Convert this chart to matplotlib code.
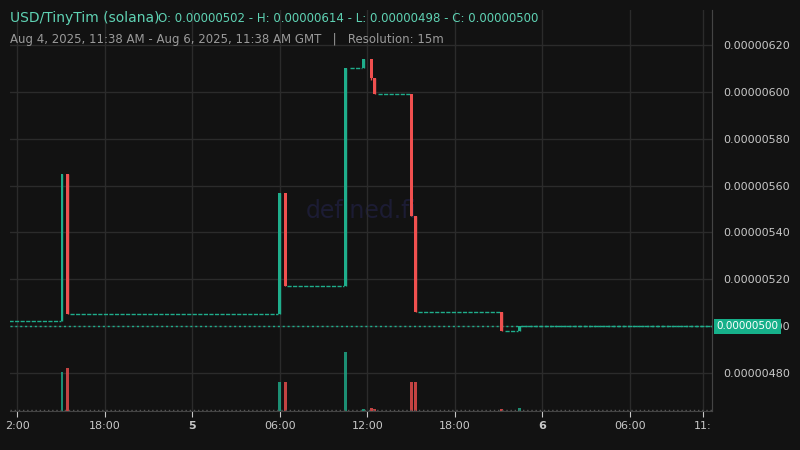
import matplotlib
matplotlib.use("Agg")
import matplotlib.pyplot as plt

# time in hours since Aug 4, 12:00 GMT; prices in USD
bar_t = [3.05, 3.45, 18.0, 18.35, 22.5, 23.75, 24.25, 24.5, 27.0, 27.3, 33.2, 34.45]
bar_o = [5.02e-6, 5.65e-6, 5.05e-6, 5.57e-6, 5.17e-6, 6.10e-6, 6.14e-6, 6.06e-6, 5.99e-6, 5.47e-6, 5.06e-6, 4.98e-6]
bar_h = [5.65e-6, 5.65e-6, 5.57e-6, 5.57e-6, 6.10e-6, 6.14e-6, 6.14e-6, 6.06e-6, 5.99e-6, 5.47e-6, 5.06e-6, 5.00e-6]
bar_l = [5.02e-6, 5.05e-6, 5.05e-6, 5.17e-6, 5.17e-6, 6.10e-6, 6.05e-6, 5.99e-6, 5.47e-6, 5.06e-6, 4.98e-6, 4.98e-6]
bar_c = [5.65e-6, 5.05e-6, 5.57e-6, 5.17e-6, 6.10e-6, 6.14e-6, 6.06e-6, 5.99e-6, 5.47e-6, 5.06e-6, 4.98e-6, 5.00e-6]
bar_v = [39, 43, 29, 29, 59, 2, 3, 2, 29, 29, 2, 3]
# flat stretches of doji candles: (start hour, end hour, price)
flat_start = [-0.6, 3.6, 18.5, 22.8, 24.7, 27.45, 33.4]
flat_end = [3.0, 17.9, 22.4, 23.6, 26.9, 33.1, 34.3]
flat_price = [5.02e-6, 5.05e-6, 5.17e-6, 6.10e-6, 5.99e-6, 5.06e-6, 4.98e-6]
last_start, last_end, last_price = 34.6, 47.7, 5.00e-6

tick_pos = [0, 6, 12, 18, 24, 30, 36, 42, 47]
tick_lab = ["2:00", "18:00", "5", "06:00", "12:00", "18:00", "6", "06:00", "11:"]
y_ticks = [4.8e-6, 5.0e-6, 5.2e-6, 5.4e-6, 5.6e-6, 5.8e-6, 6.0e-6, 6.2e-6]

BG = "#121212"; GRID = "#2b2b2b"; TXT = "#c8c8c8"
UP = "#1fae8c"; DN = "#f0504f"

fig = plt.figure(figsize=(8, 4.5), dpi=100, facecolor=BG)
ax = fig.add_axes([10/800, 39/450, 702/800, 401/450], facecolor=BG)
ax.set_xlim(-0.514, 47.63)
ax.set_ylim(4.638e-6, 6.349e-6)

ax.text(0.5, 0.5, "defined.fi", transform=ax.transAxes, fontsize=17,
        color="#1c1c34", ha="center", va="center", zorder=0)

for i in range(len(bar_t)):
    col = UP if bar_c[i] >= bar_o[i] else DN
    ax.vlines(bar_t[i], bar_l[i], bar_h[i], color=col, lw=1, zorder=3)
    lo, hi = min(bar_o[i], bar_c[i]), max(bar_o[i], bar_c[i])
    ax.bar(bar_t[i], hi - lo, bottom=lo, width=0.2, color=col, zorder=3)

for s, e, p in zip(flat_start, flat_end, flat_price):
    ax.hlines(p, s, e, color=UP, lw=1, linestyles=(0, (3, 1)), zorder=2)
ax.hlines(last_price, last_start, last_end, color=UP, lw=1, linestyles=(0, (3, 1)), zorder=2)
ax.axhline(last_price, color=UP, lw=1, linestyle=(0, (1.5, 2)), zorder=2)

vax = ax.twinx()
vax.set_ylim(0, 401)
vax.bar(bar_t, bar_v, width=0.2,
        color=[(UP if bar_c[i] >= bar_o[i] else DN) for i in range(len(bar_t))], alpha=0.8)
vax.axhline(0.6, color="#555555", lw=1, linestyle=(0, (1, 2)))
vax.set_yticks([])

ax.set_xticks(tick_pos)
ax.set_xticklabels(tick_lab)
for lab in ax.get_xticklabels():
    if lab.get_text() in ("5", "6"):
        lab.set_fontweight("bold")
ax.set_yticks(y_ticks)
ax.set_yticklabels([f"{v:.8f}" for v in y_ticks])
ax.yaxis.tick_right()
ax.tick_params(axis="both", colors=TXT, labelsize=8, length=4)
ax.tick_params(axis="y", length=0, pad=8)
ax.grid(True, color=GRID, lw=1)
for side in ["top", "left"]:
    ax.spines[side].set_visible(False)
    vax.spines[side].set_visible(False)
ax.spines["right"].set_color("#444444"); vax.spines["right"].set_color("#444444")
ax.spines["bottom"].set_color("#444444"); vax.spines["bottom"].set_visible(False)

ax.annotate(f"{last_price:.8f}", xy=(1, last_price), xycoords=("axes fraction", "data"),
            xytext=(3, 0), textcoords="offset points", va="center", ha="left",
            fontsize=7.5, color="white", zorder=5,
            bbox=dict(boxstyle="square,pad=0.25", fc="#16b08a", ec="none"))

fig.text(10/800, 1 - 18/450, "USD/TinyTim (solana)", color="#5fd3b4", fontsize=10, va="center")
fig.text(158/800, 1 - 18/450, "O: 0.00000502 - H: 0.00000614 - L: 0.00000498 - C: 0.00000500",
         color="#5fd3b4", fontsize=8.5, va="center")
fig.text(10/800, 1 - 40/450, "Aug 4, 2025, 11:38 AM - Aug 6, 2025, 11:38 AM GMT   |   Resolution: 15m",
         color="#9a9a9a", fontsize=8.5, va="center")

fig.savefig("out.png", facecolor=BG)
